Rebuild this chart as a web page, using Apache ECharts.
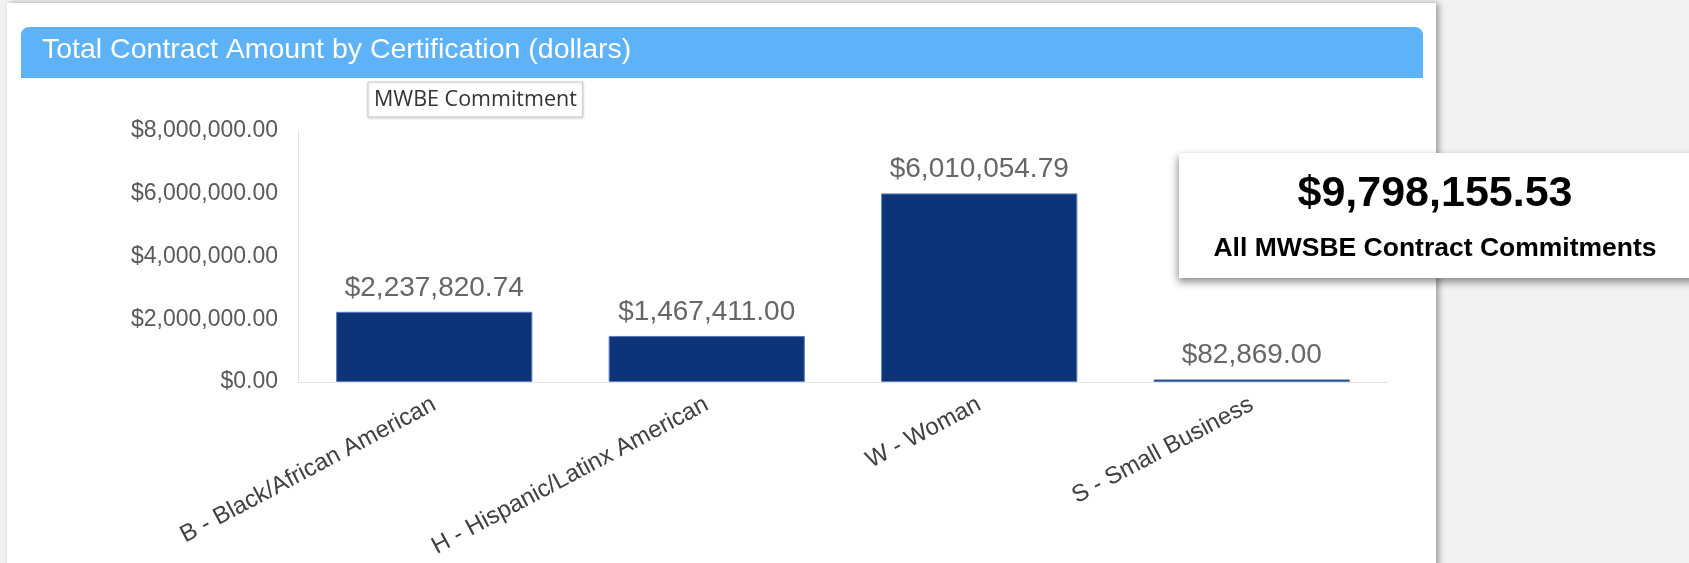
<!DOCTYPE html>
<html>
<head>
<meta charset="utf-8">
<title>Total Contract Amount by Certification</title>
<script src="https://cdn.jsdelivr.net/npm/echarts@6/dist/echarts.min.js"></script>
<style>
  html, body { margin: 0; padding: 0; }
  body { width: 1689px; height: 563px; background: #f2f2f2; position: relative; overflow: hidden; }
  .card {
    position: absolute; left: 7px; top: 3px; width: 1429px; height: 600px;
    background: #fff; box-shadow: 3px 0 6px rgba(0, 0, 0, 0.35);
  }
  .card-head {
    position: absolute; left: 21px; top: 27px; width: 1402px; height: 51px;
    background: #5db2f8; border-radius: 8px 8px 0 0;
  }
  #chart { position: absolute; left: 0; top: 0; width: 1689px; height: 563px; }
</style>
</head>
<body>
<div class="card"></div>
<div class="card-head"></div>
<div id="chart"></div>
<script>
// 数据
const categories = [
  "B - Black/African American",
  "H - Hispanic/Latinx American",
  "W - Woman",
  "S - Small Business",
];
const amounts = [2237820.74, 1467411.0, 6010054.79, 82869.0];
const seriesName = "MWBE Commitment";
const yMin = 0;
const yMax = 8000000;
const yStep = 2000000;

const money = (v) =>
  "$" + Number(v).toLocaleString("en-US", { minimumFractionDigits: 2, maximumFractionDigits: 2 });

// 总数
let total = 0;
amounts.forEach((v) => { total += v; });

const font = "'Liberation Sans', Arial, sans-serif";

let chart = echarts.init(document.getElementById("chart"));
chart.setOption({
  animation: false,
  title: {
    text: "Total Contract Amount by Certification (dollars)",
    left: 42,
    top: 36,
    padding: 0,
    textStyle: { color: "#fff", fontFamily: font, fontSize: 28.5, fontWeight: "normal" },
  },
  legend: {
    data: [seriesName],
    left: 368,
    top: 82,
    icon: "rect",
    itemWidth: 0,
    itemHeight: 0,
    selectedMode: false,
    padding: [7, 6, 6, 0],
    backgroundColor: "#fff",
    borderColor: "#c8c8c8",
    borderWidth: 1,
    shadowBlur: 3,
    shadowColor: "rgba(0,0,0,0.15)",
    shadowOffsetY: 1,
    textStyle: { color: "#333", fontFamily: "'Open Sans', sans-serif", fontSize: 21.5, lineHeight: 22 },
  },
  grid: { left: 298, top: 131, right: 301, bottom: 181, containLabel: false },
  xAxis: {
    type: "category",
    data: categories,
    axisLine: { lineStyle: { color: "#e3e3e3", width: 1 } },
    axisTick: { show: false },
    axisLabel: { rotate: 28, margin: 21, color: "#404040", fontFamily: font, fontSize: 24, interval: 0 },
  },
  yAxis: {
    type: "value",
    min: yMin,
    max: yMax,
    interval: yStep,
    axisLine: { show: true, lineStyle: { color: "#e3e3e3", width: 1 } },
    axisTick: { show: false },
    splitLine: { show: false },
    axisLabel: { margin: 20, color: "#595959", fontFamily: font, fontSize: 23, formatter: money },
  },
  series: [
    {
      name: seriesName,
      type: "bar",
      data: amounts,
      barCategoryGap: "28%",
      itemStyle: { color: "#0d3379", borderColor: "#5a7cba", borderWidth: 1 },
      label: {
        show: true,
        position: "top",
        distance: 10,
        color: "#666",
        fontFamily: font,
        fontSize: 28,
        formatter: (p) => money(p.value),
      },
    },
  ],
  graphic: [
    {
      type: "group",
      z: 100,
      children: [
        {
          type: "rect",
          shape: { x: 1179, y: 153, width: 530, height: 125 },
          style: {
            fill: "#fff",
            shadowBlur: 8,
            shadowOffsetX: -1,
            shadowOffsetY: 4,
            shadowColor: "rgba(0,0,0,0.45)",
          },
        },
        {
          type: "text",
          x: 1435,
          y: 194,
          style: {
            text: money(total),
            fill: "#000",
            font: "bold 43px " + font,
            textAlign: "center",
            textVerticalAlign: "middle",
          },
        },
        {
          type: "text",
          x: 1435,
          y: 249,
          style: {
            text: "All MWSBE Contract Commitments",
            fill: "#000",
            font: "bold 26.5px " + font,
            textAlign: "center",
            textVerticalAlign: "middle",
          },
        },
      ],
    },
  ],
});
</script>
</body>
</html>
